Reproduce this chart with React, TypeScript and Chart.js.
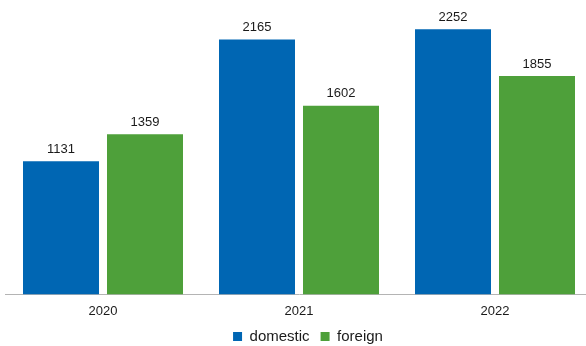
import React, { useEffect, useRef } from "react";
import { Chart, registerables } from "chart.js";

Chart.register(...registerables);

const categories = ["2020", "2021", "2022"];
const domestic = [1131, 2165, 2252];
const foreign = [1359, 1602, 1855];
const seriesNames = ["domestic", "foreign"];
const colors = ["#0066b3", "#4ea03a"];

const FONT = "'Liberation Sans', Arial, sans-serif";

const valueLabels = {
  id: "valueLabels",
  afterDatasetsDraw(chart: any) {
    const ctx = chart.ctx;
    ctx.save();
    ctx.font = `13px ${FONT}`;
    ctx.fillStyle = "#1a1a1a";
    ctx.textAlign = "center";
    ctx.textBaseline = "middle";
    chart.data.datasets.forEach((ds: any, i: number) => {
      const meta = chart.getDatasetMeta(i);
      meta.data.forEach((bar: any, j: number) => {
        ctx.fillText(String(ds.data[j]), bar.x, bar.y - 12);
      });
    });
    ctx.restore();
  },
};

const legendShift = {
  id: "legendShift",
  afterLayout(chart: any) {
    if (chart.legend) {
      chart.legend.left += 9;
      chart.legend.right += 9;
    }
  },
};

export default function App() {
  const ref = useRef<HTMLCanvasElement>(null);
  useEffect(() => {
    document.body.style.margin = "0";
    const chart = new Chart(ref.current!, {
      type: "bar",
      data: {
        labels: categories,
        datasets: [
          { label: seriesNames[0], data: domestic, backgroundColor: colors[0] },
          { label: seriesNames[1], data: foreign, backgroundColor: colors[1] },
        ],
      },
      options: {
        animation: false,
        responsive: false,
        maintainAspectRatio: false,
        layout: { padding: { left: 5, right: 5, top: 0, bottom: -8 } },
        datasets: {
          bar: { barPercentage: 76 / 84, categoryPercentage: 168 / 196 },
        } as any,
        scales: {
          x: {
            grid: { display: false },
            border: { display: true, color: "#b4b4b4", width: 1 },
            ticks: { color: "#1a1a1a", font: { family: FONT, size: 13 }, padding: 1 },
            afterFit(scale: any) {
              scale.height -= 2;
            },
          },
          y: { display: false, min: 0, max: 2500 },
        },
        plugins: {
          legend: {
            position: "bottom",
            labels: {
              boxWidth: 9,
              boxHeight: 9,
              padding: 11,
              color: "#1a1a1a",
              font: { family: FONT, size: 15 },
            },
          },
          tooltip: { enabled: false },
        },
      },
      plugins: [valueLabels, legendShift],
    });
    return () => chart.destroy();
  }, []);
  return (
    <div style={{ width: 586, height: 346, overflow: "hidden" }}>
      <canvas ref={ref} width={598} height={346} style={{ display: "block" }} />
    </div>
  );
}
